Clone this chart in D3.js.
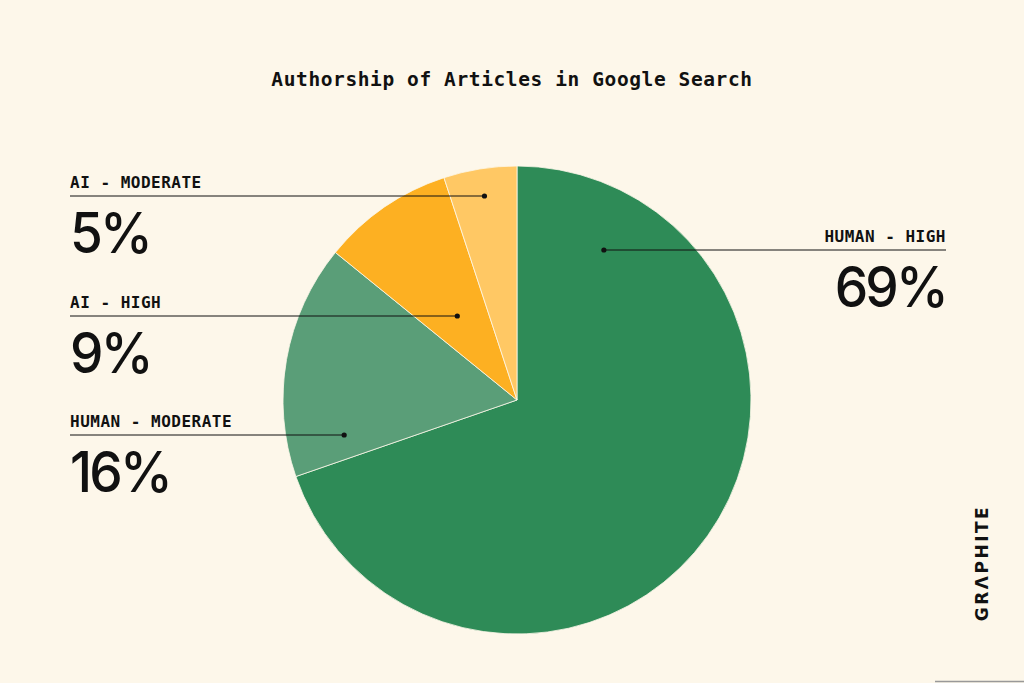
<!DOCTYPE html>
<html><head><meta charset="utf-8">
<script src="https://cdn.jsdelivr.net/npm/d3@7"></script>
<style>body{margin:0;background:#fdf7ea}</style></head>
<body><svg id="c" width="1024" height="683"></svg>
<script>
const categories = ["HUMAN - HIGH","HUMAN - MODERATE","AI - HIGH","AI - MODERATE"];
const values = [69,16,9,5];
const colors = ["#2e8b57","#5a9e78","#fdb022","#ffc864"];

const svg = d3.select("#c");
svg.append("rect").attr("width",1024).attr("height",683).attr("fill","#fdf7ea");
svg.append("text").attr("x",512).attr("y",86).attr("text-anchor","middle")
  .attr("font-family","DejaVu Sans Mono").attr("font-size",19.5).attr("font-weight","bold")
  .attr("letter-spacing",0.6).attr("fill","#111")
  .text("Authorship of Articles in Google Search");

const cx=517, cy=400, R=234;
const pie = d3.pie().sort(null).value(d=>d);
const arcs = pie(values);
const arc = d3.arc().innerRadius(0).outerRadius(R);
const g = svg.append("g").attr("transform",`translate(${cx},${cy})`);
g.selectAll("path").data(arcs).join("path").attr("d",arc)
  .attr("fill",(d,i)=>colors[i]).attr("stroke","#fdf7ea").attr("stroke-width",0.8);

const layout = [
  {side:"right", y:250, t:0.12, r:0.74},
  {side:"left", y:435, t:0.5, r:0.75},
  {side:"left", y:316, t:0.5, r:0.45},
  {side:"left", y:196, t:0.5, r:0.88}
];
arcs.forEach((a,i)=>{
  const L=layout[i];
  const ang=a.startAngle+(a.endAngle-a.startAngle)*L.t;
  const dx=cx+Math.sin(ang)*R*L.r;
  const x0 = L.side==="left"?70:946;
  svg.append("line").attr("x1",x0).attr("x2",dx).attr("y1",L.y).attr("y2",L.y)
    .attr("stroke","#111").attr("stroke-width",1);
  svg.append("circle").attr("cx",dx).attr("cy",L.y).attr("r",2.6).attr("fill","#111");
  const anchor = L.side==="left"?"start":"end";
  svg.append("text").attr("x",x0).attr("y",L.y-8).attr("text-anchor",anchor)
    .attr("font-family","DejaVu Sans Mono").attr("font-size",16).attr("font-weight","bold")
    .attr("letter-spacing",0.5).attr("fill","#111")
    .text(categories[i]);
  svg.append("g").attr("transform",`translate(${x0},${L.y+57}) scale(0.95,1)`)
    .append("text").attr("text-anchor",anchor)
    .attr("font-family","Inter").attr("font-size",56).attr("font-weight",500).attr("fill","#111")
    .attr("letter-spacing",-3)
    .text(values[i]+"%");
});

svg.append("text").attr("transform","translate(988,563) rotate(-90)")
  .attr("text-anchor","middle").attr("font-family","DejaVu Sans").attr("font-weight","bold")
  .attr("font-size",17).attr("letter-spacing",2.5).attr("fill","#111").text("GRΛPHITE");
svg.append("line").attr("x1",935).attr("x2",1024).attr("y1",681.5).attr("y2",681.5)
  .attr("stroke","#999").attr("stroke-width",1.5);
</script></body></html>
